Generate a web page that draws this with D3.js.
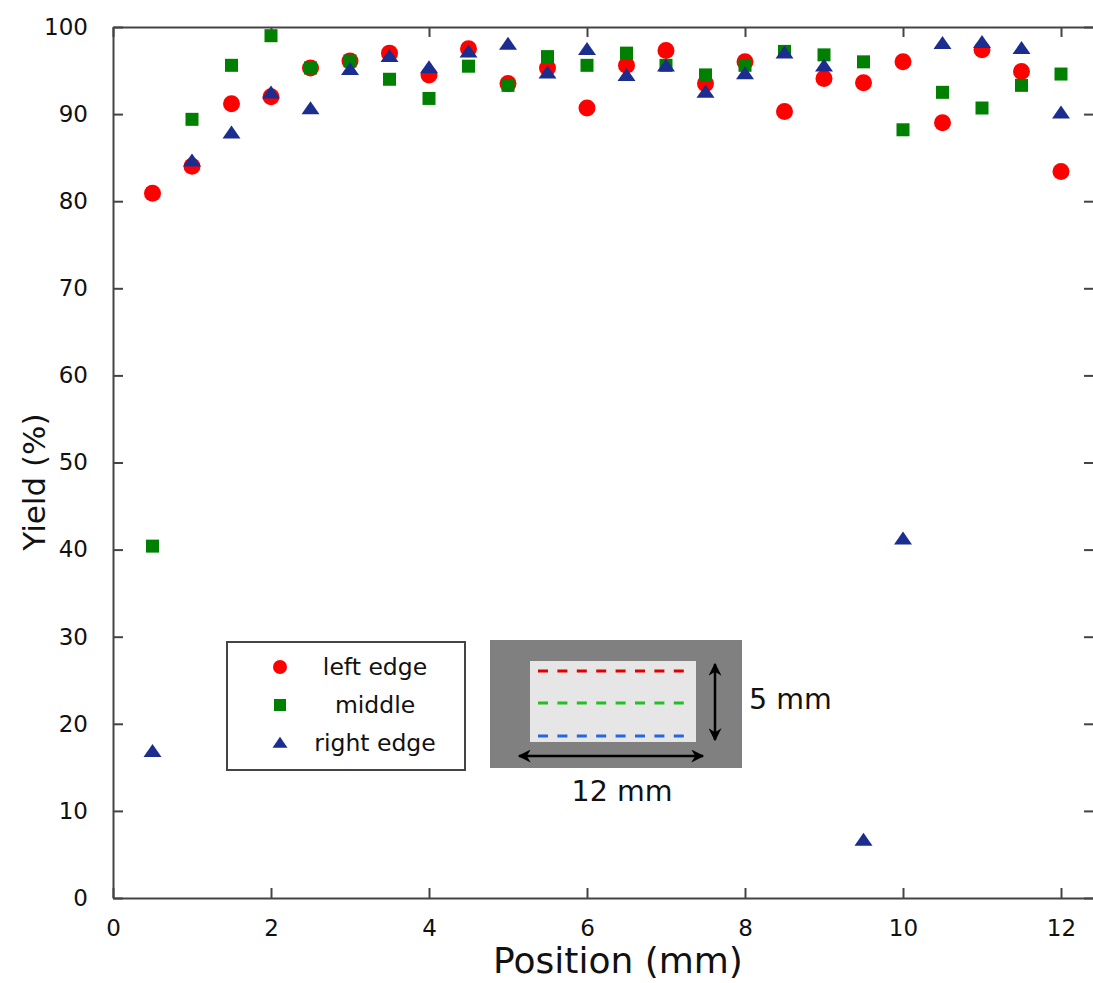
<!DOCTYPE html>
<html>
<head>
<meta charset="utf-8">
<script src="https://cdn.jsdelivr.net/npm/d3@7"></script>
<style>
  body { margin: 0; background: #fff; }
  svg { font-family: "DejaVu Sans", sans-serif; display: block; }
</style>
</head>
<body>
<div id="container"></div>
<script>
// positions along the sample (mm)
var positions = [0.5, 1, 1.5, 2, 2.5, 3, 3.5, 4, 4.5, 5, 5.5, 6,
                 6.5, 7, 7.5, 8, 8.5, 9, 9.5, 10, 10.5, 11, 11.5, 12];

var leftEdge = [80.9, 84.0, 91.2, 92.0, 95.3, 96.1, 97.0, 94.5, 97.5, 93.5, 95.3, 90.7,
                95.6, 97.3, 93.5, 96.0, 90.3, 94.1, 93.6, 96.0, 89.0, 97.4, 94.9, 83.4];
var middle   = [40.4, 89.4, 95.6, 99.0, 95.3, 96.1, 94.0, 91.8, 95.5, 93.3, 96.6, 95.6,
                97.0, 95.6, 94.5, 95.6, 97.2, 96.8, 96.0, 88.2, 92.5, 90.7, 93.3, 94.6];
var rightEdge = [16.8, 84.6, 87.8, 92.4, 90.6, 95.1, 96.6, 95.3, 97.1, 98.0, 94.7, 97.4,
                 94.4, 95.5, 92.5, 94.6, 97.0, 95.5, 6.6, 41.2, 98.1, 98.2, 97.5, 90.1];

var seriesNames = ["left edge", "middle", "right edge"];
var xTicks = [0, 2, 4, 6, 8, 10, 12];
var yTicks = [0, 10, 20, 30, 40, 50, 60, 70, 80, 90, 100];

var width = 1093, height = 983;
var plotLeft = 113, plotRight = 1094, plotTop = 27, plotBottom = 898;

var svg = d3.select("#container").append("svg")
    .attr("width", width)
    .attr("height", height);

var x = d3.scaleLinear().domain([0, 12.4]).range([plotLeft, plotLeft + 79 * 12.4]);
var y = d3.scaleLinear().domain([0, 100]).range([plotBottom, plotTop]);

var axisColor = "#444";

// frame with inward ticks
var fmt = d3.format("d");
function styleLabels(g) {
  g.selectAll("text")
    .style("font-size", "23px")
    .style("font-family", "DejaVu Sans")
    .attr("fill", "#111");
}
svg.append("g").attr("transform", "translate(0," + plotBottom + ")")
    .call(d3.axisBottom(x).tickValues(xTicks).tickSizeInner(-10).tickSizeOuter(0).tickPadding(22).tickFormat(fmt))
    .call(styleLabels);
svg.append("g").attr("transform", "translate(0," + plotTop + ")")
    .call(d3.axisTop(x).tickValues(xTicks).tickSizeInner(-10).tickSizeOuter(0).tickFormat(""));
svg.append("g").attr("transform", "translate(" + plotLeft + ",0)")
    .call(d3.axisLeft(y).tickValues(yTicks).tickSizeInner(-10).tickSizeOuter(0).tickPadding(25).tickFormat(fmt))
    .call(styleLabels);
svg.append("g").attr("transform", "translate(" + plotRight + ",0)")
    .call(d3.axisRight(y).tickValues(yTicks).tickSizeInner(-10).tickSizeOuter(0).tickFormat(""));

svg.selectAll(".domain").attr("stroke", axisColor).attr("stroke-width", 2);
svg.selectAll(".tick line").attr("stroke", axisColor).attr("stroke-width", 2);

// axis titles
svg.append("text")
    .attr("x", 618).attr("y", 973)
    .attr("text-anchor", "middle")
    .style("font-size", "36px")
    .attr("fill", "#111")
    .text("Position (mm)");

svg.append("text")
    .attr("transform", "translate(45,482) rotate(-90)")
    .attr("text-anchor", "middle")
    .style("font-size", "31px")
    .attr("fill", "#111")
    .text("Yield (%)");

// marker helpers
function triPath(w, h) {
  return "M0," + (-2 * h / 3) + "L" + (w / 2) + "," + (h / 3) + "L" + (-w / 2) + "," + (h / 3) + "Z";
}

var red = "#ff0000", green = "#008000", blue = "#1b2d8e";

var pts = svg.append("g");

pts.selectAll("circle.left")
    .data(positions.map((p, i) => ({ x: p, y: leftEdge[i] })))
    .enter().append("circle")
    .attr("class", "left")
    .attr("cx", d => x(d.x))
    .attr("cy", d => y(d.y))
    .attr("r", 8.5)
    .attr("fill", red);

pts.selectAll("rect.middle")
    .data(positions.map((p, i) => ({ x: p, y: middle[i] })))
    .enter().append("rect")
    .attr("class", "middle")
    .attr("x", d => x(d.x) - 6.5)
    .attr("y", d => y(d.y) - 6.5)
    .attr("width", 13)
    .attr("height", 13)
    .attr("fill", green);

pts.selectAll("path.right")
    .data(positions.map((p, i) => ({ x: p, y: rightEdge[i] })))
    .enter().append("path")
    .attr("class", "right")
    .attr("transform", d => "translate(" + x(d.x) + "," + (y(d.y) + 1) + ")")
    .attr("d", triPath(18, 13))
    .attr("fill", blue);

// legend
var legend = svg.append("g").attr("transform", "translate(227,642)");
legend.append("rect")
    .attr("width", 238).attr("height", 128)
    .attr("fill", "#fff")
    .attr("stroke", axisColor).attr("stroke-width", 2);

var rowY = [25, 63, 101];
legend.append("circle").attr("cx", 53).attr("cy", rowY[0]).attr("r", 7).attr("fill", red);
legend.append("rect").attr("x", 47).attr("y", rowY[1] - 6).attr("width", 12).attr("height", 12).attr("fill", green);
legend.append("path").attr("transform", "translate(53," + (rowY[2] + 1) + ")").attr("d", triPath(15, 11)).attr("fill", blue);

legend.selectAll("text.lab")
    .data(seriesNames)
    .enter().append("text")
    .attr("class", "lab")
    .attr("x", 148)
    .attr("y", (d, i) => rowY[i] + 8)
    .attr("text-anchor", "middle")
    .style("font-size", "23.5px")
    .attr("fill", "#111")
    .text(d => d);

// sample sketch inset
var inset = svg.append("g").attr("transform", "translate(490,640)");
inset.append("rect").attr("width", 252).attr("height", 128).attr("fill", "#808080");
inset.append("rect").attr("x", 40).attr("y", 21).attr("width", 166).attr("height", 81).attr("fill", "#e6e6e6");

var lineColors = ["#e00000", "#20c020", "#2266e0"];
var lineY = [31, 63, 96];
inset.selectAll("line.cut")
    .data(lineColors)
    .enter().append("line")
    .attr("class", "cut")
    .attr("x1", 48).attr("x2", 199)
    .attr("y1", (d, i) => lineY[i]).attr("y2", (d, i) => lineY[i])
    .attr("stroke", d => d)
    .attr("stroke-width", 3)
    .attr("stroke-dasharray", "10,9.4");

svg.append("defs").append("marker")
    .attr("id", "arrow")
    .attr("viewBox", "0 0 10 10")
    .attr("refX", 9).attr("refY", 5)
    .attr("markerWidth", 20).attr("markerHeight", 13)
    .attr("markerUnits", "userSpaceOnUse")
    .attr("orient", "auto-start-reverse")
    .append("path").attr("d", "M0,0L10,5L0,10L3,5Z").attr("fill", "#000");

inset.append("line")
    .attr("x1", 225).attr("x2", 225).attr("y1", 24).attr("y2", 100)
    .attr("stroke", "#000").attr("stroke-width", 2.5)
    .attr("marker-start", "url(#arrow)").attr("marker-end", "url(#arrow)");
inset.append("line")
    .attr("x1", 29).attr("x2", 213).attr("y1", 116).attr("y2", 116)
    .attr("stroke", "#000").attr("stroke-width", 2.5)
    .attr("marker-start", "url(#arrow)").attr("marker-end", "url(#arrow)");

svg.append("text").attr("x", 749).attr("y", 709)
    .style("font-size", "28.5px").attr("fill", "#111").text("5 mm");
svg.append("text").attr("x", 622).attr("y", 801)
    .attr("text-anchor", "middle")
    .style("font-size", "28.5px").attr("fill", "#111").text("12 mm");
</script>
</body>
</html>
